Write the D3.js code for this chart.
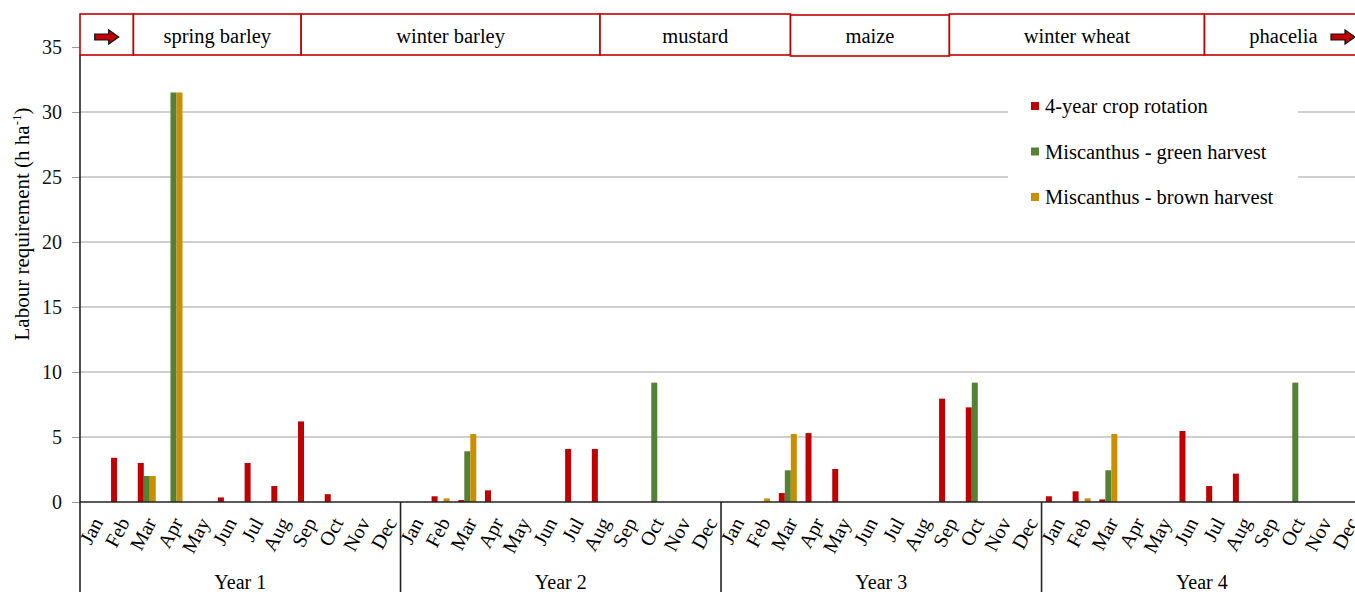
<!DOCTYPE html>
<html><head><meta charset="utf-8">
<script src="https://cdn.jsdelivr.net/npm/d3@7"></script>
<style>html,body{margin:0;padding:0;background:#fff;overflow:hidden}svg{display:block}text{font-family:"Liberation Serif","Times New Roman",serif}</style>
</head><body><svg id="c" width="1355" height="592"></svg>
<script>
const months = ["Jan","Feb","Mar","Apr","May","Jun","Jul","Aug","Sep","Oct","Nov","Dec"];
const years = ["Year 1","Year 2","Year 3","Year 4"];
const seriesNames = ["4-year crop rotation","Miscanthus - green harvest","Miscanthus - brown harvest"];
const seriesColors = ["#c00000","#548235","#c98f00"];
// 48 months, Year1 Jan .. Year4 Dec
const rotation = [0,3.4,3.0,0,0,0.35,3.0,1.23,6.2,0.6,0,0,
                  0,0.44,0.15,0.9,0,0,4.08,4.08,0,0,0,0,
                  0,0,0.69,5.3,2.54,0,0,0,7.95,7.28,0,0,
                  0.44,0.82,0.2,0,0,5.46,1.23,2.18,0,0,0,0];
const greenHarvest = [0,0,2.0,31.5,0,0,0,0,0,0,0,0,
                      0,0,3.9,0,0,0,0,0,0,9.18,0,0,
                      0,0,2.44,0,0,0,0,0,0,9.18,0,0,
                      0,0,2.44,0,0,0,0,0,0,9.18,0,0];
const brownHarvest = [0,0,2.0,31.5,0,0,0,0,0,0,0,0,
                      0,0.28,5.23,0,0,0,0,0,0,0,0,0,
                      0,0.28,5.23,0,0,0,0,0,0,0,0,0,
                      0,0.28,5.23,0,0,0,0,0,0,0,0,0];
const yTicks = [0,5,10,15,20,25,30,35];
// crop banner segments, in month units from start of Year 1
const crops = ["", "spring barley","winter barley","mustard","maize","winter wheat","phacelia"];
const cropStart = [0,2,8.28,19.47,26.6,32.55,42.1];
const cropEnd   = [2,8.28,19.47,26.6,32.55,42.1,48.5];

const svg = d3.select("#c");
const L = 80, step = 26.71, base = 502;
const keys = d3.range(48);
const x = d3.scaleBand().domain(keys).range([L, L + 48*step]).padding(0);
const xm = d3.scaleLinear().domain([0,48]).range([L, L + 48*step]);
const xs = d3.scaleBand().domain([0,1,2]).range([0, x.bandwidth()]).paddingInner(0).paddingOuter(0.725);
const y = d3.scaleLinear().domain([0,35]).range([base, base - 455]);

// gridlines
svg.append("g").selectAll("line").data(yTicks.filter(d=>d>0)).join("line")
  .attr("x1", L).attr("x2", 1355).attr("y1", d=>y(d)).attr("y2", d=>y(d))
  .attr("stroke", "#bfbfbf").attr("stroke-width", 1.3);

// y axis
const ya = svg.append("g").attr("transform", `translate(${L},0)`)
  .call(d3.axisLeft(y).tickValues(yTicks).tickSize(8).tickPadding(10));
ya.select(".domain").remove();
ya.selectAll(".tick line").attr("stroke", "#999");
ya.selectAll("text").attr("font-size", 20).attr("font-family", "Liberation Serif").attr("fill", "#111");

// bars
const series = [rotation, greenHarvest, brownHarvest];
series.forEach((vals, si) => {
  svg.append("g").selectAll("rect").data(keys.filter(i => vals[i] > 0)).join("rect")
    .attr("x", i => x(i) + xs(si)).attr("width", xs.bandwidth())
    .attr("y", i => y(vals[i])).attr("height", i => base - y(vals[i]))
    .attr("fill", seriesColors[si]);
});

// axes lines
svg.append("line").attr("x1", L).attr("x2", 1355).attr("y1", base).attr("y2", base).attr("stroke", "#222").attr("stroke-width", 1.6);
svg.append("line").attr("x1", L).attr("x2", L).attr("y1", 55).attr("y2", 592).attr("stroke", "#222").attr("stroke-width", 1.6);
svg.append("g").selectAll("line").data([1,2,3,4]).join("line")
  .attr("x1", d=>xm(d*12)).attr("x2", d=>xm(d*12)).attr("y1", base).attr("y2", 592)
  .attr("stroke", "#222").attr("stroke-width", 1.6);

// month labels
svg.append("g").selectAll("text").data(keys).join("text")
  .attr("transform", i => `translate(${x(i) + x.bandwidth()/2 + 4},${base + 17}) rotate(-62)`)
  .attr("text-anchor", "end").attr("dy", "0.35em")
  .attr("font-size", 20).text(i => months[i % 12]);

// year labels
svg.append("g").selectAll("text").data(years).join("text")
  .attr("x", (d,i) => xm(i*12 + 6)).attr("y", 589)
  .attr("text-anchor", "middle").attr("font-size", 20).text(d => d);

// y title
svg.append("text").attr("transform", "translate(29,224) rotate(-90)")
  .attr("text-anchor", "middle").attr("font-size", 21)
  .call(t => { t.append("tspan").text("Labour requirement (h ha");
               t.append("tspan").attr("font-size", 13).attr("dy", -8).text("-1");
               t.append("tspan").attr("dy", 8).text(")"); });

// crop banner
const bn = svg.append("g");
bn.selectAll("rect").data(crops).join("rect")
  .attr("x", (d,i) => xm(cropStart[i])).attr("width", (d,i) => xm(cropEnd[i]) - xm(cropStart[i]))
  .attr("y", (d,i) => i === 4 ? 15 : 14).attr("height", 41)
  .attr("fill", "#fff").attr("stroke", "#c00000").attr("stroke-width", 1.6);
bn.selectAll("text").data(crops).join("text")
  .attr("x", (d,i) => i === 6 ? xm(cropStart[i]) + 79 : (xm(cropStart[i]) + xm(cropEnd[i])) / 2)
  .attr("y", 43).attr("text-anchor", "middle").attr("font-size", 20.5).text(d => d);
function arrow(cx, cy) {
  const p = [[-12,-3],[2,-3],[2,-7],[12,0],[2,7],[2,3],[-12,3]];
  bn.append("path").attr("d", d3.line()(p.map(q => [cx + q[0], cy + q[1]])) + "Z")
    .attr("fill", "#c00000").attr("stroke", "#111").attr("stroke-width", 1.2);
}
arrow((xm(cropStart[0]) + xm(cropEnd[0])) / 2, 37);
arrow(1343, 37);

// legend
const lg = svg.append("g");
lg.append("rect").attr("x", 1008).attr("y", 88).attr("width", 290).attr("height", 128).attr("fill", "#fff");
seriesNames.forEach((n, i) => {
  lg.append("rect").attr("x", 1031).attr("y", 102 + i*45.5).attr("width", 8).attr("height", 8).attr("fill", seriesColors[i]);
  lg.append("text").attr("x", 1045).attr("y", 113 + i*45.5).attr("font-size", 20.5).text(n);
});
</script></body></html>
